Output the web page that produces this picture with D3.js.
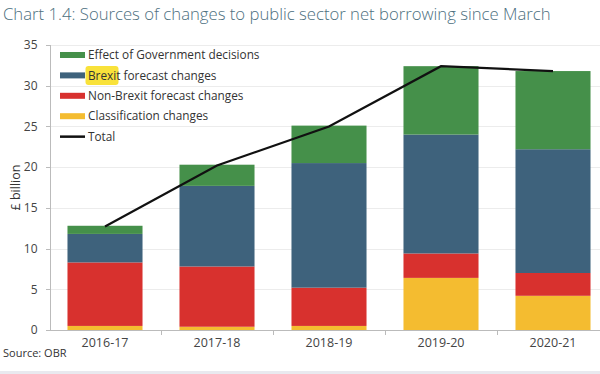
<!DOCTYPE html>
<meta charset="utf-8">
<style>
body { margin: 0; background: #fff; }
svg { display: block; }
.axis text { font: 12.5px "Open Sans", sans-serif; fill: #444; }
.axis path, .axis line { fill: none; stroke: #bbb; shape-rendering: crispEdges; }
.grid line { stroke: #ececec; shape-rendering: crispEdges; }
.legend text { font: 11.8px "Open Sans", sans-serif; fill: #333; }
</style>
<body>
<div id="chart"></div>
<script src="https://cdnjs.cloudflare.com/ajax/libs/d3/7.8.5/d3.min.js"></script>
<script>
// year categories along the bottom
var years = ["2016-17", "2017-18", "2018-19", "2019-20", "2020-21"];

// stacked components, bottom to top (£ billion)
var classification = [0.5, 0.4, 0.5, 6.4, 4.2];
var nonBrexit      = [7.8, 7.4, 4.7, 3.0, 2.8];
var brexit         = [3.5, 9.9, 15.3, 14.6, 15.2];
var government     = [1.0, 2.6, 4.6, 8.4, 9.6];
var total          = [12.7, 20.2, 25.0, 32.4, 31.8];

var yTicks = [0, 5, 10, 15, 20, 25, 30, 35];

var series = [
  {key: "classification", name: "Classification changes", values: classification, color: "#f4bc30"},
  {key: "nonBrexit", name: "Non-Brexit forecast changes", values: nonBrexit, color: "#d8312e"},
  {key: "brexit", name: "Brexit forecast changes", values: brexit, color: "#3e627c"},
  {key: "government", name: "Effect of Government decisions", values: government, color: "#45904a"}
];

var width = 600, height = 374;
var margin = {top: 45, right: -9, bottom: 44, left: 49};

var svg = d3.select("#chart").append("svg")
    .attr("width", width)
    .attr("height", height);

// title
svg.append("text")
    .attr("x", 3)
    .attr("y", 20)
    .style("font", "300 16.7px 'Open Sans', sans-serif")
    .style("fill", "#4d6f80")
    .text("Chart 1.4: Sources of changes to public sector net borrowing since March");

var x = d3.scaleBand()
    .domain(years)
    .range([margin.left, width - margin.right])
    .paddingInner(0.33)
    .paddingOuter(0.165);

var y = d3.scaleLinear()
    .domain([0, 35])
    .range([height - margin.bottom, margin.top]);

// grid
svg.append("g").attr("class", "grid")
  .selectAll("line")
  .data(yTicks.slice(1))
  .enter().append("line")
    .attr("x1", margin.left)
    .attr("x2", width)
    .attr("y1", function(d) { return Math.round(y(d)) + 0.5; })
    .attr("y2", function(d) { return Math.round(y(d)) + 0.5; });

// stack
var rows = years.map(function(yr, i) {
  var r = {year: yr};
  series.forEach(function(s) { r[s.key] = s.values[i]; });
  return r;
});
var stack = d3.stack().keys(series.map(function(s) { return s.key; }));
var layers = stack(rows);

svg.append("g")
  .selectAll("g")
  .data(layers)
  .enter().append("g")
    .attr("fill", function(d, i) { return series[i].color; })
  .selectAll("rect")
  .data(function(d) { return d; })
  .enter().append("rect")
    .attr("x", function(d) { return x(d.data.year); })
    .attr("width", x.bandwidth())
    .attr("y", function(d) { return y(d[1]); })
    .attr("height", function(d) { return y(d[0]) - y(d[1]); });

// total line
var line = d3.line()
    .x(function(d, i) { return x(years[i]) + x.bandwidth() / 2; })
    .y(function(d) { return y(d); });

svg.append("path")
    .datum(total)
    .attr("d", line)
    .attr("fill", "none")
    .attr("stroke", "#111")
    .attr("stroke-width", 2.2);

// axes
var yAxis = svg.append("g")
    .attr("class", "axis")
    .attr("transform", "translate(" + (margin.left + 0.5) + ",0)")
    .call(d3.axisLeft(y).tickValues(yTicks).tickSize(4).tickPadding(8));
yAxis.selectAll("text").style("font-size", "12px");

var xAxis = svg.append("g")
    .attr("class", "axis")
    .attr("transform", "translate(0," + (height - margin.bottom + 0.5) + ")")
    .call(d3.axisBottom(x).tickSize(0).tickPadding(8));
xAxis.select(".domain").attr("d", "M" + margin.left + ",0H" + width);

// band separators on the x axis
svg.append("g").attr("class", "axis")
  .selectAll("line")
  .data(years.slice(1))
  .enter().append("line")
    .attr("x1", function(d) { return Math.round(x(d) - x.step() * x.paddingInner() / 2) + 0.5; })
    .attr("x2", function(d) { return Math.round(x(d) - x.step() * x.paddingInner() / 2) + 0.5; })
    .attr("y1", height - margin.bottom)
    .attr("y2", height - margin.bottom + 5);

// y label
svg.append("text")
    .attr("transform", "translate(20," + (y(17.5)) + ") rotate(-90)")
    .attr("text-anchor", "middle")
    .style("font", "12.5px 'Open Sans', sans-serif")
    .style("fill", "#333")
    .text("£ billion");

// source
svg.append("text")
    .attr("x", 3)
    .attr("y", 357)
    .style("font", "11px 'Open Sans', sans-serif")
    .style("fill", "#333")
    .text("Source: OBR");

// legend (top down: govt, brexit, non-brexit, classification, total)
var legendItems = series.slice().reverse().concat([{name: "Total", color: "#111", isLine: true}]);
var legend = svg.append("g").attr("class", "legend")
    .attr("transform", "translate(60,55)");

var item = legend.selectAll("g")
  .data(legendItems)
  .enter().append("g")
    .attr("transform", function(d, i) { return "translate(0," + (i * 20.4) + ")"; });

item.append("rect")
    .attr("x", 0)
    .attr("y", function(d) { return d.isLine ? -1.2 : -3; })
    .attr("width", 25)
    .attr("height", function(d) { return d.isLine ? 2.5 : 6; })
    .attr("fill", function(d) { return d.color; });

item.each(function(d) {
  var g = d3.select(this);
  if (d.key === "brexit") {
    g.append("rect")
      .attr("x", 25.5).attr("y", -9.5)
      .attr("width", 33).attr("height", 19)
      .attr("rx", 3)
      .attr("fill", "#f9e23a");
    var t = g.append("text").attr("x", 28).attr("y", 4.2);
    t.append("tspan").text("Brexit");
    t.append("tspan").text(" forecast changes");
  } else {
    g.append("text").attr("x", 28).attr("y", 4.2).text(d.name);
  }
});

// bottom frame strip
svg.append("rect")
    .attr("x", 0).attr("y", height - 3)
    .attr("width", width).attr("height", 3)
    .attr("fill", "#e9e9ef");
</script>
